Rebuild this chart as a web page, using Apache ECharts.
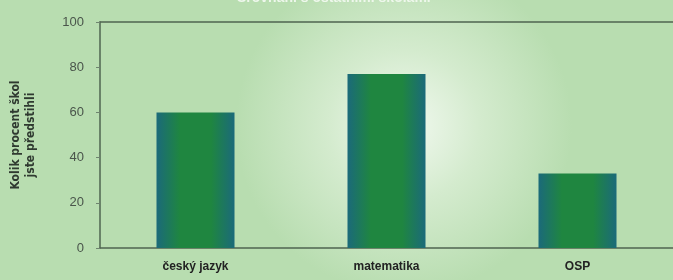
<!DOCTYPE html>
<html>
<head>
<meta charset="utf-8">
<script src="https://cdn.jsdelivr.net/npm/echarts@6/dist/echarts.min.js"></script>
<style>
  html, body { margin: 0; padding: 0; }
  #chart { width: 673px; height: 280px; }
</style>
</head>
<body>
<div id="chart"></div>
<script>
// data
let predmety = ['český jazyk', 'matematika', 'OSP'];
let procenta = [60, 77, 33];
let osaMin = 0;
let osaMax = 100;
let osaKrok = 20;

var myChart = echarts.init(document.getElementById('chart'));

// sloupce: do stran modrozelené, uprostřed zelené
var barvaSloupce = new echarts.graphic.LinearGradient(0, 0, 1, 0, [
    { offset: 0, color: '#1b6a7a' },
    { offset: 0.3, color: '#1f8640' },
    { offset: 0.7, color: '#1f8640' },
    { offset: 1, color: '#1b6a7a' }
]);

option = {
    backgroundColor: new echarts.graphic.RadialGradient(0.6, 0.45, 0.6, [
        { offset: 0, color: '#f2f9f0' },
        { offset: 0.45, color: '#d4ebce' },
        { offset: 1, color: '#b8ddb0' }
    ]),
    title: {
        // nadpis je v originále nahoře skoro celý useknutý
        text: 'Srovnání s ostatními školami',
        left: 232,
        top: -14,
        textStyle: {
            color: '#eef7ec',
            fontSize: 14,
            fontWeight: 'bold',
            fontFamily: 'Liberation Sans'
        }
    },
    grid: {
        left: 98,
        right: -7,
        top: 22,
        bottom: 32
    },
    xAxis: [
        {
            type: 'category',
            data: predmety,
            axisLine: { lineStyle: { color: '#4f6450', width: 1.5 } },
            axisTick: { show: false },
            axisLabel: {
                color: '#222',
                fontSize: 12,
                fontWeight: 'bold',
                fontFamily: 'Liberation Sans',
                margin: 13
            }
        },
        {
            // horní čára rámu na 100
            type: 'category',
            position: 'top',
            data: predmety,
            axisLine: { lineStyle: { color: '#4f6450', width: 1.5 } },
            axisTick: { show: false },
            axisLabel: { show: false }
        }
    ],
    yAxis: {
        type: 'value',
        min: osaMin,
        max: osaMax,
        interval: osaKrok,
        name: 'Kolik procent škol\njste předstihli',
        nameLocation: 'middle',
        nameRotate: 90,
        nameGap: 62,
        nameTextStyle: {
            color: '#2f3a30',
            fontSize: 12,
            fontWeight: 'bold',
            fontFamily: '"DejaVu Sans Condensed", "Liberation Sans", sans-serif',
            lineHeight: 15
        },
        axisLine: { show: true, lineStyle: { color: '#4f6450', width: 1.5 } },
        axisTick: { show: true, length: 4, lineStyle: { color: '#6f846f' } },
        splitLine: { show: false },
        axisLabel: {
            color: '#4a554b',
            fontSize: 13,
            fontFamily: 'Liberation Sans',
            margin: 16
        }
    },
    series: [
        {
            type: 'bar',
            data: procenta,
            barWidth: 78,
            itemStyle: { color: barvaSloupce }
        }
    ]
};

myChart.setOption(option);
</script>
</body>
</html>
